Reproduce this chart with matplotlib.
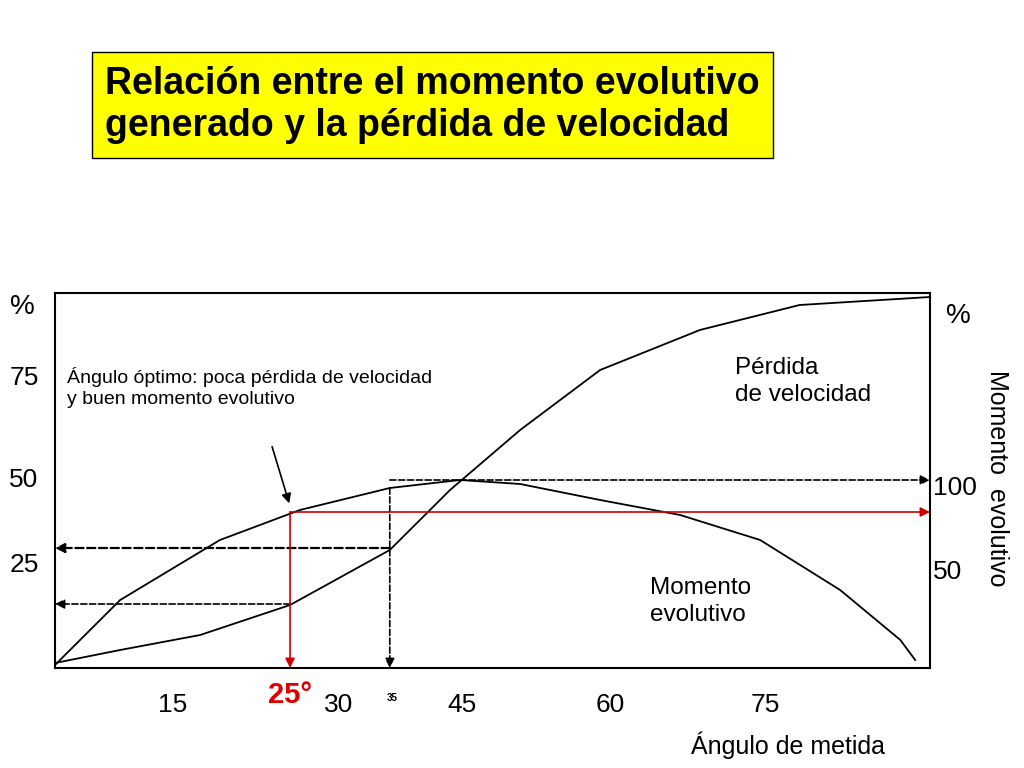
import matplotlib
matplotlib.use("Agg")
import matplotlib.pyplot as plt

plt.rcParams["font.family"] = "Liberation Sans"

# Curve data: x = angle (deg), y = percent
perdida_x = [3.1, 9.7, 17.8, 26.9, 37.0, 43.1, 50.2, 58.3, 68.4, 78.5, 91.7]
perdida_y = [1.25, 4.5, 8.25, 15.75, 29.5, 44.5, 59.5, 74.5, 84.5, 90.75, 92.75]
momento_x = [3.1, 9.7, 19.8, 27.9, 37.0, 44.1, 50.2, 58.3, 66.4, 74.5, 82.6, 88.7, 90.2]
momento_y = [0.75, 17, 32, 39.5, 45, 47, 46, 42, 38.25, 32, 19.5, 7, 2]

x_tick_pos = [15, 31.8, 44.3, 59.3, 75]
x_tick_lab = ["15", "30", "45", "60", "75"]
y_tick_pos = [72.5, 47, 25.75]
y_tick_lab = ["75", "50", "25"]
yr_tick_pos = [45, 24]
yr_tick_lab = ["100", "50"]

W, H = 1024, 768
fig = plt.figure(figsize=(10.24, 7.68), dpi=100)
ax = fig.add_axes([55 / W, 1 - 668 / H, 875 / W, 375 / H])
ax.set_xlim(3.1, 91.7)
ax.set_ylim(0, 93.75)
ax.plot(perdida_x, perdida_y, color="black", lw=1.3)
ax.plot(momento_x, momento_y, color="black", lw=1.3)

ax.set_xticks(x_tick_pos)
ax.set_xticklabels(x_tick_lab, fontsize=19)
ax.set_yticks([])
ax.tick_params(length=0, pad=18)
for s in ax.spines.values():
    s.set_linewidth(1.5)

def arrow(x0, y0, x1, y1, color="black", ls="--", lw=1.2):
    ax.annotate("", xy=(x1, y1), xytext=(x0, y0),
                arrowprops=dict(arrowstyle="-|>", color=color, lw=lw, ls=ls,
                                mutation_scale=14, shrinkA=0, shrinkB=0))

arrow(37, 47, 91.7, 47)
arrow(37, 30, 3.1, 30, lw=1.6)
arrow(26.9, 16, 3.1, 16)
arrow(37, 45, 37, 0)
arrow(26.9, 39, 26.9, 0, color="#cc0000", ls="-")
arrow(26.9, 39, 91.7, 39, color="#cc0000", ls="-")
ax.annotate("", xy=(26.9, 40.5), xytext=(25, 56),
            arrowprops=dict(arrowstyle="-|>", color="black", lw=1.2, mutation_scale=14))

ax.text(4.3, 65, "Ángulo óptimo: poca pérdida de velocidad\ny buen momento evolutivo",
        fontsize=14, va="bottom", linespacing=1.3)
ax.text(72, 65.5, "Pérdida\nde velocidad", fontsize=17.5, va="bottom", linespacing=1.3)
ax.text(63.3, 10.5, "Momento\nevolutivo", fontsize=17.5, va="bottom", linespacing=1.3)

for p, lab in zip(y_tick_pos, y_tick_lab):
    fig.text(24 / W, ax.transData.transform((0, p))[1] / H, lab, fontsize=19,
             ha="center", va="center")
fig.text(290 / W, 1 - 695 / H, "25°", color="#dd0000", fontsize=21, fontweight="bold",
         ha="center", va="center")
fig.text(392 / W, 1 - 698 / H, "35", fontsize=7, fontweight="bold", ha="center", va="center")
fig.text(22 / W, 1 - 307 / H, "%", fontsize=20, ha="center", va="center")
fig.text(958 / W, 1 - 316 / H, "%", fontsize=20, ha="center", va="center")
for p, lab in zip(yr_tick_pos, yr_tick_lab):
    fig.text(933 / W, ax.transData.transform((0, p))[1] / H, lab, fontsize=19,
             ha="left", va="center")
fig.text(997 / W, 1 - 478 / H, "Momento  evolutivo", fontsize=18, rotation=-90,
         ha="center", va="center")
fig.text(788 / W, 1 - 745 / H, "Ángulo de metida", fontsize=18, ha="center", va="center")

fig.text(105 / W, 1 - 105 / H, "Relación entre el momento evolutivo\ngenerado y la pérdida de velocidad",
         fontsize=27, fontweight="bold", ha="left", va="center", linespacing=1.25,
         bbox=dict(boxstyle="square,pad=0.35", facecolor="#ffff00", edgecolor="black"))

fig.savefig("out.png", dpi=100)
